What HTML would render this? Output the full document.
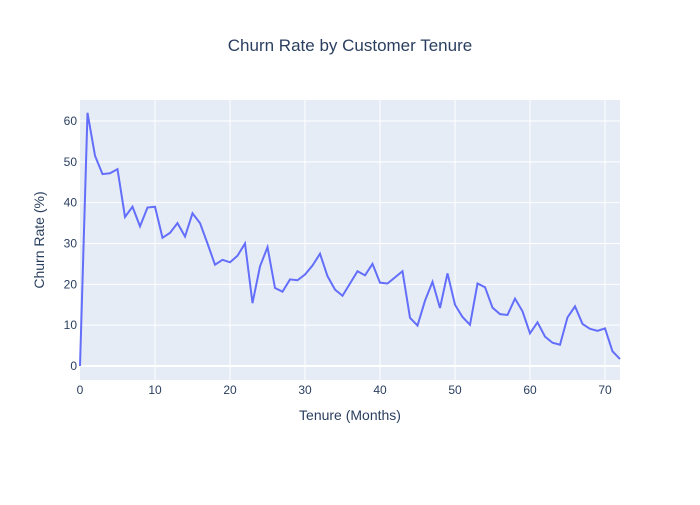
<!DOCTYPE html>
<html><head><meta charset="utf-8"><style>
body{margin:0;background:#fff;font-family:"Liberation Sans",Arial,sans-serif}
</style></head><body>
<svg id="chart" width="700" height="500" xmlns="http://www.w3.org/2000/svg">
<rect x="0" y="0" width="700" height="500" fill="#fff"/>
<rect x="80" y="100" width="540" height="280" fill="#e5ecf6"/>
<g id="grid"></g><g id="ticks"></g>
<path id="line" fill="none" stroke="#636efa" stroke-width="2"/>
<text x="350" y="51" text-anchor="middle" font-size="17" fill="#2a3f5f">Churn Rate by Customer Tenure</text>
<text x="350" y="420" text-anchor="middle" font-size="14" fill="#2a3f5f">Tenure (Months)</text>
<text x="44" y="240" text-anchor="middle" font-size="14" fill="#2a3f5f" transform="rotate(-90 44 240)">Churn Rate (%)</text>
</svg>
<script>
const tenure=[];for(let i=0;i<=72;i++)tenure.push(i);
const churn=[0,62,51.5,47,47.2,48.2,36.5,39,34.2,38.8,39,31.4,32.6,35,31.7,37.4,35,30,24.8,26,25.4,27,30,15.4,24.4,29.1,19.1,18.2,21.2,21,22.4,24.6,27.5,22,18.7,17.2,20.2,23.2,22.2,25,20.4,20.2,21.7,23.2,11.8,9.9,16,20.6,14.2,22.7,15,12,10.1,20.2,19.3,14.3,12.7,12.5,16.5,13.4,8,10.7,7.2,5.7,5.2,11.9,14.6,10.3,9.1,8.6,9.2,3.6,1.7];
const xTicks=[0,10,20,30,40,50,60,70];
const yTicks=[0,10,20,30,40,50,60];
const X=v=>80+v*540/72;
const Y=v=>366-v*245/60;
const NS="http://www.w3.org/2000/svg";
const grid=document.getElementById('grid'),ticks=document.getElementById('ticks');
function mk(t,a,p){const e=document.createElementNS(NS,t);for(const k in a)e.setAttribute(k,a[k]);p.appendChild(e);return e;}
xTicks.forEach(v=>{
 if(v>0){const l=mk('line',{x1:X(v),x2:X(v),y1:100,y2:380,stroke:'#fff','stroke-width':1},grid);
 
 }
 const t=mk('text',{x:X(v),y:394,'text-anchor':'middle','font-size':12,fill:'#2a3f5f'},ticks);t.textContent=v;
 
 
});
yTicks.forEach(v=>{
 const l=mk('line',{x1:80,x2:620,y1:Y(v),y2:Y(v),stroke:'#fff','stroke-width':v===0?2:1},grid);
 
 
 const t=mk('text',{x:77,y:Y(v)+4,'text-anchor':'end','font-size':12,fill:'#2a3f5f'},ticks);t.textContent=v;
 
 
});
document.getElementById('line').setAttribute('d',churn.map((v,i)=>(i?'L':'M')+X(tenure[i])+','+Y(v)).join(''));
</script>
</body></html>
